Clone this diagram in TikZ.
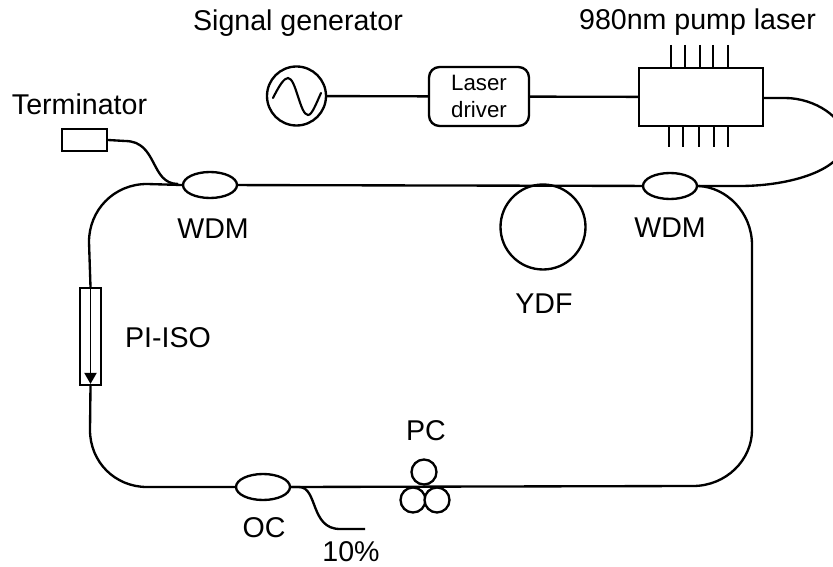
\documentclass[tikz,border=0pt]{standalone}
\usepackage{fontspec}
\setmainfont{Liberation Sans}
\usetikzlibrary{arrows.meta,shapes.geometric}
\tikzset{
  fiber/.style={line width=2pt},
  device/.style={draw,line width=2pt,inner sep=0pt,fill=white},
  coupler/.style={device,ellipse,minimum width=54*0.03cm,minimum height=26*0.03cm},
  roller/.style={device,circle,minimum size=25*0.03cm},
  caption/.style={inner sep=0pt,anchor=base,font=\fontsize{24.4}{28}\selectfont}
}
\begin{document}
\begin{tikzpicture}[x=0.03cm,y=-0.03cm]
    \useasboundingbox (0,0) rectangle (833,567);
    % devices
    \node[device,minimum width=45*0.03cm,minimum height=22*0.03cm] (term) at (84.5,140) {};
    \node[coupler] (wdml) at (210,185) {};
    \node[coupler] (wdmr) at (670,186) {};
    \node[coupler] (oc) at (263,487) {};
    \node[device,circle,minimum size=59*0.03cm] (gen) at (296.5,96) {};
    \node[device,rounded corners=9pt,minimum width=100*0.03cm,minimum height=59*0.03cm,align=center,
      font=\fontsize{19}{23}\selectfont] (driver) at (479,96.5) {Laser\\driver};
    \node[device,minimum width=124*0.03cm,minimum height=58*0.03cm] (pump) at (701,97) {};
    \node[device,circle,minimum size=85*0.03cm] (ydf) at (543,227) {};
    \node[device,line width=1.6pt,minimum width=21*0.03cm,minimum height=97*0.03cm] (iso) at (90.5,336.5) {};
    \node[roller] (pctop) at (424,472) {};
    \node[roller] (pcleft) at (413,500) {};
    \node[roller] (pcright) at (437,500) {};
    % generator wave
    \draw[line width=1.8pt,line cap=round] (273,98) .. controls (279,86) and (284,78) .. (288,78)
      .. controls (296,78) and (300,115) .. (308,115) .. controls (312,115) and (316,104) .. (321,93);
    % pump pins
    \foreach \x in {671,685,700,713,728}
      \draw[fiber] (\x,45) -- (\x,45 |- pump.north);
    \foreach \x in {669,683,699,714,728}
      \draw[fiber] (\x,147) -- (\x,147 |- pump.south);
    % electrical path
    \draw[fiber] (gen) -- (driver);
    \draw[fiber] (driver) -- (pump);
    % ring
    \draw[fiber] (wdml) -- (wdmr);
    \draw[fiber] (wdml.west) -- (147,184) .. controls (114,184) and (89,210) .. (89,242) -- (iso.north);
    \draw[fiber] (iso.south) -- (90,430) .. controls (90,462) and (115,487) .. (147,487) -- (oc.west);
    \draw[fiber] (oc.east) -- (693,486) .. controls (726,486) and (752,460) .. (752,430) -- (752,245)
      .. controls (752,212) and (726,187) .. (wdmr.east);
    % side branches
    \draw[fiber] (term.east) -- (125,141) .. controls (158,141) and (150,184) .. (178,184);
    \coordinate (tenout) at (365,529);
    \draw[fiber] (oc.east) -- (299,487) .. controls (318,487) and (310,529) .. (340,529) -- (tenout);
    \draw[fiber] (pump.east |- 0,98) -- (785,98) .. controls (815,98) and (845,118) .. (845,140)
      .. controls (845,170) and (790,186) .. (740,186) -- (wdmr.east);
    % isolator arrow
    \draw[line width=1.6pt,-{Triangle[length=11*0.03cm,width=12*0.03cm]}] (iso.north) -- ([yshift=2*0.03cm]iso.south);
    % labels
    \node[caption] (siglabel) at (298,31) {Signal generator};
    \node[caption] (pumplabel) at (697.5,30) {980nm pump laser};
    \node[caption] (termlabel) at (79.5,115) {Terminator};
    \node[caption] (wdmllabel) at (213,239) {WDM};
    \node[caption] (wdmrlabel) at (670,238) {WDM};
    \node[caption] (ydflabel) at (544,314) {YDF};
    \node[caption] (isolabel) at (168,347) {PI-ISO};
    \node[caption] (pclabel) at (426,440) {PC};
    \node[caption] (oclabel) at (264,537) {OC};
    \node[caption] (tenlabel) at (351,561) {10\%};
\end{tikzpicture}
\end{document}
